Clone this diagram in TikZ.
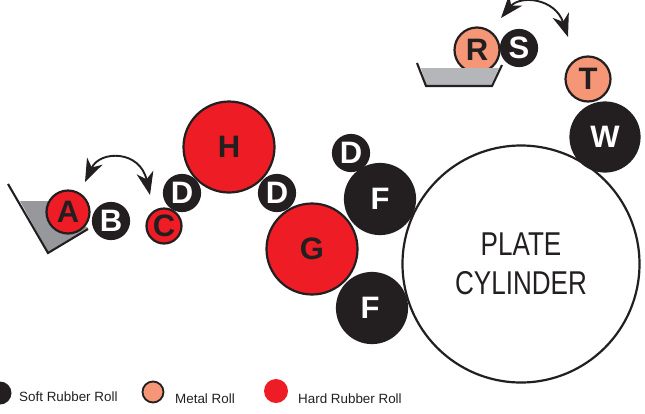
\documentclass[tikz,border=0pt]{standalone}
\usepackage{fontspec}
\setmainfont{Liberation Sans}
\usetikzlibrary{arrows.meta}
\definecolor{ink}{HTML}{231F20}
\definecolor{hard}{HTML}{EE1C25}
\definecolor{metal}{HTML}{F59677}
\definecolor{tray}{HTML}{B5B6BA}
\definecolor{traydark}{HTML}{97989C}
\tikzset{x=1pt,y=-1pt,
  roll/.style={circle,draw=ink,line width=2.2pt,inner sep=0pt,outer sep=0pt,font=\bfseries\fontsize{31}{31}\selectfont},
  softroll/.style={roll,fill=ink,text=white},
  hardroll/.style={roll,fill=hard,text=ink},
  metalroll/.style={roll,fill=metal,text=ink},
  swing/.style={ink,line width=1.9pt,{Stealth[length=23pt,width=17pt,inset=7pt]}-{Stealth[length=23pt,width=17pt,inset=7pt]}},
  trayline/.style={ink,line width=2.1pt},
  legendtext/.style={font=\fontsize{13.4}{14}\selectfont,text=ink,anchor=base west,inner sep=0pt}
}
\begin{document}
\begin{tikzpicture}
\useasboundingbox (0,0) rectangle (645,413);
% trays
\fill[traydark] (20,201) -- (52,201) -- (88,228) -- (48,252) -- cycle;
\draw[trayline] (8,184) -- (48,253) -- (88,229);
\node[hardroll,minimum size=43pt] (A) at (68,212) {A};
\node[softroll,minimum size=36pt] (B) at (111,221) {B};
\node[softroll,minimum size=36pt] (Dl) at (182,193) {D};
\node[hardroll,minimum size=35pt] (C) at (164,226) {C};
\node[hardroll,minimum size=91pt] (H) at (229,147) {H};
\node[softroll,minimum size=36pt] (Dm) at (277,193) {D};
\node[softroll,minimum size=36pt] (Dt) at (351,153) {D};
\node[softroll,minimum size=70pt] (F1) at (380,199) {F};
\node[softroll,minimum size=70pt] (F2) at (372,308) {\hspace{-4pt}F};
\node[hardroll,minimum size=91pt] (G) at (312,249) {G};
\node[circle,draw=ink,fill=white,line width=2.2pt,inner sep=0pt,minimum size=237pt,align=center,
  font=\fontsize{33}{40}\selectfont,text=ink] (P) at (521,264) {\scalebox{0.79}[1]{PLATE}\\[-1pt]\scalebox{0.79}[1]{CYLINDER}};
\node[softroll,minimum size=69pt] (W) at (605,137) {W};
\node[metalroll,minimum size=45pt] (T) at (588,79) {T};
\node[metalroll,minimum size=45pt] (R) at (477,50) {R};
\node[softroll,minimum size=36pt] (S) at (519,48) {S};
\fill[tray] (421,68) -- (499,68) -- (491,85) -- (426,85) -- cycle;
\draw[trayline] (417,63) -- (426,86) -- (492,86) -- (502,65);
% swing arrows
\coordinate (a1) at (85,182);
\coordinate (a2) at (150,195);
\coordinate (b1) at (501,18);
\coordinate (b2) at (568,37);
\draw[swing] (a1) .. controls (100,150) and (140,150) .. (a2);
\draw[swing] (b1) .. controls (520,-5) and (555,-2) .. (b2);
% legend
\node[circle,fill=ink,inner sep=0pt,minimum size=23pt] (k1) at (0,393) {};
\node[circle,fill=metal,draw=ink,line width=1.8pt,inner sep=0pt,minimum size=21pt] (k2) at (153,392) {};
\node[circle,fill=hard,inner sep=0pt,minimum size=24pt] (k3) at (276,391) {};
\node[legendtext] (t1) at (19,401) {Soft Rubber Roll};
\node[legendtext] (t2) at (175,403) {Metal Roll};
\node[legendtext] (t3) at (298,403) {Hard Rubber Roll};
\end{tikzpicture}
\end{document}
